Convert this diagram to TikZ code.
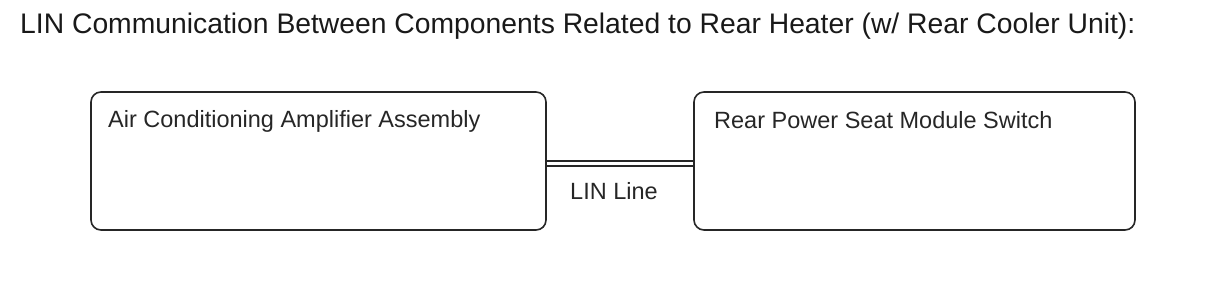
\documentclass[tikz,border=0pt]{standalone}
\usepackage{fontspec}
\setmainfont{Liberation Sans}
\begin{document}
\begin{tikzpicture}[x=1pt,y=-1pt,
  box/.style={draw=black!85,line width=1.6pt,rounded corners=10pt},
  lbl/.style={anchor=base west,inner sep=0pt,text=black!85,font=\fontsize{23.5}{26}\selectfont},
  wire/.style={draw=black!85,line width=2pt}]
\useasboundingbox (0,0) rectangle (1210,304);
\node[anchor=base west,inner sep=0pt,text=black!90,font=\fontsize{28.3}{32}\selectfont] (title) at (20,34) {LIN Communication Between Components Related to Rear Heater (w/ Rear Cooler Unit):};
\draw[box] (91,92) rectangle (546,230);
\coordinate (A) at (546,163.5);
\draw[box] (694,92) rectangle (1135,230);
\coordinate (B) at (694,163.5);
\node[lbl] (at) at (108,127.5) {Air Conditioning Amplifier Assembly};
\node[lbl] (bt) at (714,128.5) {Rear Power Seat Module Switch};
\draw[wire] ([yshift=-2.5pt]A) -- ([yshift=-2.5pt]B);
\draw[wire] ([yshift=2.5pt]A) -- ([yshift=2.5pt]B);
\node[lbl] (lin) at (570,200) {LIN Line};
\end{tikzpicture}
\end{document}
